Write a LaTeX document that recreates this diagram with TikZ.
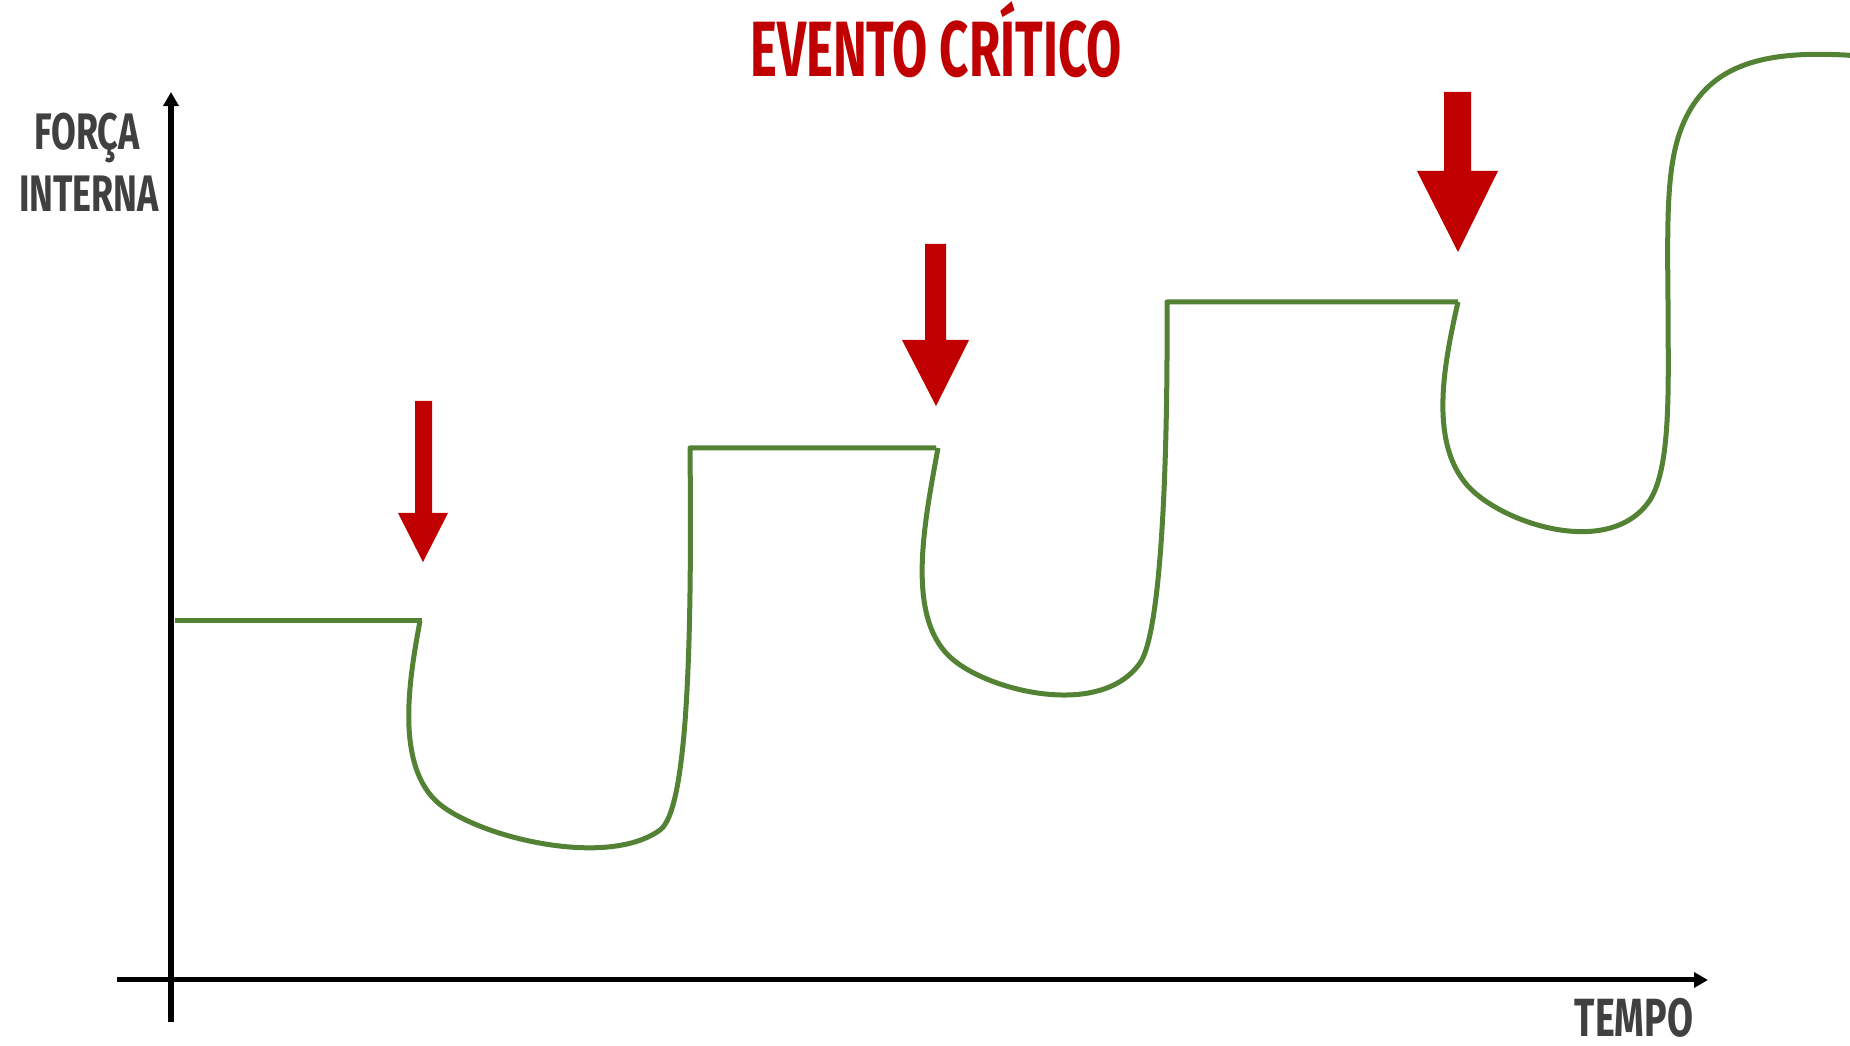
\documentclass[tikz,border=0pt]{standalone}
\usepackage{fontspec}
\newfontfamily\titlefont[FakeStretch=0.65]{Fira Sans}
\newfontfamily\labelfont[FakeStretch=0.70]{Fira Sans}
\usetikzlibrary{arrows.meta}
\definecolor{alertred}{HTML}{C00000}
\definecolor{curvegreen}{HTML}{548235}
\definecolor{labelgray}{HTML}{404040}
\begin{document}
\begin{tikzpicture}[x=0.01cm,y=-0.01cm,
  axisline/.style={line width=0.05cm, black, -{Triangle[length=0.14cm,width=0.15cm]}},
  forcecurve/.style={line width=0.05cm, curvegreen, line join=round},
  eventarrow/.style={fill=alertred, draw=none},
  titletext/.style={font=\titlefont\bfseries\fontsize{22.3}{24}\selectfont, text=alertred, inner sep=0pt, anchor=base},
  axislabel/.style={font=\labelfont\bfseries\fontsize{14.6}{16}\selectfont, text=labelgray, inner sep=0pt, anchor=base}]
\useasboundingbox (0,0) rectangle (1850,1046);
\fill[white] (0,0) rectangle (1850,1046);

% title and axis labels
\node[titletext] (title) at (936,77) {EVENTO CRÍTICO};
\node[axislabel] (forca) at (87,150) {FORÇA};
\node[axislabel] (interna) at (89,212) {INTERNA};
\node[axislabel, font=\labelfont\bfseries\fontsize{15.3}{16}\selectfont] (tempo) at (1634,1037) {TEMPO};

% axes
\coordinate (yfoot) at (171,1022);
\coordinate (ytop) at (171,92);
\coordinate (xfoot) at (117,980);
\coordinate (xend) at (1708,980);
\draw[axisline] (yfoot) -- (ytop);
\draw[axisline] (xfoot) -- (xend);

% internal force over time: plateaus, drops after each event, recoveries
\draw[forcecurve] (175,621) -- (422,621);
\draw[forcecurve] (420,621) .. controls (410,675) and (395,760) .. (435,800)
  .. controls (470,835) and (605,870) .. (660,830)
  .. controls (688,810) and (692,640) .. (690,448) -- (936,448);
\draw[forcecurve] (938,448) .. controls (925,520) and (905,615) .. (950,657)
  .. controls (985,690) and (1100,720) .. (1140,663)
  .. controls (1160,635) and (1168,480) .. (1167,302) -- (1458,302);
\draw[forcecurve] (1458,302) .. controls (1445,360) and (1428,440) .. (1467,485)
  .. controls (1500,523) and (1610,560) .. (1650,500)
  .. controls (1672,465) and (1668,380) .. (1668,300)
  .. controls (1667,200) and (1667,150) .. (1690,110)
  .. controls (1720,58) and (1780,50) .. (1860,56);

% critical event markers
\fill[eventarrow] (415,401) -- (432,401) -- (432,513) -- (448,513) -- (423,562)
  -- (398,513) -- (415,513) -- cycle;
\fill[eventarrow] (925,244) -- (946,244) -- (946,340) -- (969,340) -- (936,406)
  -- (902,340) -- (925,340) -- cycle;
\fill[eventarrow] (1444,92) -- (1471,92) -- (1471,171) -- (1498,171) -- (1458,252)
  -- (1417,171) -- (1444,171) -- cycle;
\end{tikzpicture}
\end{document}
